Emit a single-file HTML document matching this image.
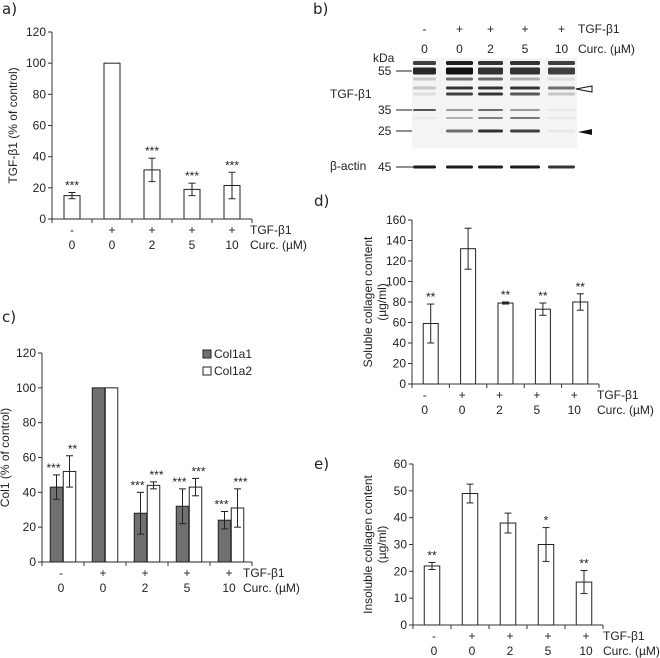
<!DOCTYPE html>
<html><head><meta charset="utf-8"><style>
html,body{margin:0;padding:0;background:#fff;}
svg{display:block;font-family:"Liberation Sans",Arial,sans-serif;}
.t{font-size:12px;fill:#222;}
.pl{font-family:"DejaVu Sans","Liberation Sans",sans-serif;font-size:15px;fill:#222;}
</style></head><body>
<svg id="fig" width="660" height="658" viewBox="0 0 660 658">
<text class="pl" x="2" y="14">a)</text>
<text class="pl" x="313" y="14">b)</text>
<text class="pl" x="2" y="322">c)</text>
<text class="pl" x="314" y="206">d)</text>
<text class="pl" x="314" y="469">e)</text>
<g id="blot"></g>
</svg>
<script>
// Panel a data
const aCats=["0","0","2","5","10"];
const aSigns=["-","+","+","+","+"];
const aVals=[15,100,31.5,19,21.5];
const aErr=[2,0,7.5,4,8.5];
const aStars=["***","","***","***","***"];
const aTicks=[0,20,40,60,80,100,120];
// Panel c data
const cCats=["0","0","2","5","10"];
const cSigns=["-","+","+","+","+"];
const cCol1a1=[43,100,28,32,24];
const cCol1a1Err=[7,0,12,10,5];
const cCol1a1Stars=["***","","***","***","***"];
const cCol1a2=[52,100,44,43,31];
const cCol1a2Err=[9,0,2,5,11];
const cCol1a2Stars=["**","","***","***","***"];
const cTicks=[0,20,40,60,80,100,120];
// Panel d data
const dCats=["0","0","2","5","10"];
const dSigns=["-","+","+","+","+"];
const dVals=[59,132,79,73,80];
const dErr=[19,20,1,6,8];
const dStars=["**","","**","**","**"];
const dTicks=[0,20,40,60,80,100,120,140,160];
// Panel e data
const eCats=["0","0","2","5","10"];
const eSigns=["-","+","+","+","+"];
const eVals=[22,49,38,30,16];
const eErr=[1.3,3.5,3.7,6.3,4.3];
const eStars=["**","","","*","**"];
const eTicks=[0,10,20,30,40,50,60];

const NS="http://www.w3.org/2000/svg";
const svg=document.getElementById('fig');
function mk(tag,attrs,parent,text){const e=document.createElementNS(NS,tag);for(const k in attrs)e.setAttribute(k,attrs[k]);if(text!==undefined)e.textContent=text;(parent||svg).appendChild(e);return e;}

function panel(o){
  const g=mk('g',{});
  
  
  const y=v=>o.y0-(v-o.min)/(o.max-o.min)*(o.y0-o.y1);
  const n=o.signs.length, bw=(o.xe-o.x0)/n;
  const cx=i=>o.x0+bw*(i+0.5);
  const ax=mk('line',{x1:o.x0,y1:o.y1,x2:o.x0,y2:o.y0,stroke:'#333','stroke-width':1},g);
  
  
  const xa=mk('line',{x1:o.x0,y1:o.y0,x2:o.xe,y2:o.y0,stroke:'#333','stroke-width':1},g);
  
  
  o.ticks.forEach(t=>{
    mk('line',{x1:o.x0-4,x2:o.x0,y1:y(t),y2:y(t),stroke:'#333'},g);
    const tl=mk('text',{class:'t',x:o.x0-6,y:y(t)+4,'text-anchor':'end'},g,String(t));
    
    
  });
  for(let i=0;i<=n;i++) mk('line',{x1:o.x0+bw*i,x2:o.x0+bw*i,y1:o.y0,y2:o.y0+4,stroke:'#333'},g);
  o.series.forEach((s,si)=>{
    s.vals.forEach((v,i)=>{
      const x=cx(i)+s.off-o.barW/2;
      const r=mk('rect',{x:x,y:y(v),width:o.barW,height:o.y0-y(v),fill:s.fill,stroke:'#222','stroke-width':1},g);
      
      
      const e=s.err[i];
      const bx=x+o.barW/2;
      if(e>0){
        mk('line',{x1:bx,x2:bx,y1:y(v+e),y2:y(v-e),stroke:'#222'},g);
        mk('line',{x1:bx-3.5,x2:bx+3.5,y1:y(v+e),y2:y(v+e),stroke:'#222'},g);
        mk('line',{x1:bx-3.5,x2:bx+3.5,y1:y(v-e),y2:y(v-e),stroke:'#222'},g);
      }
      if(s.stars[i]){
        const st=mk('text',{class:'t',x:bx+(s.starOff||0),y:y(v+e)-3,'text-anchor':'middle','font-size':'10'},g,s.stars[i]);
        
        
      }
    });
  });
  o.signs.forEach((s,i)=>{
    const a=mk('text',{class:'t',x:cx(i)+o.lblOff,y:o.y0+15,'text-anchor':'middle'},g,s);
    
    
    const b=mk('text',{class:'t',x:cx(i)+o.lblOff,y:o.y0+30,'text-anchor':'middle'},g,o.cats[i]);
    
    
  });
  const t1=mk('text',{class:'t',x:o.xe+o.rlx,y:o.y0+15},g,'TGF-β1');
  
  
  const t2=mk('text',{class:'t',x:o.xe+o.rlx,y:o.y0+30},g,'Curc. (µM)');
  
  
  o.ylab.forEach((l,k)=>{
    const yl=mk('text',{class:'t',transform:`translate(${o.ylx+k*14},${(o.y0+o.y1)/2}) rotate(-90)`,'text-anchor':'middle'},g,l);
    
    
  });
}

panel({name:'chart-a',x0:52,xe:252,y0:219,y1:32,min:0,max:120,ticks:aTicks,signs:aSigns,cats:aCats,barW:16,lblOff:0,rlx:-2,ylx:17,ylab:['TGF-β1 (% of control)'],
  series:[{key:'tgf',vals:aVals,err:aErr,stars:aStars,fill:'#fff',off:0}]});
panel({name:'chart-c',x0:42,xe:252,y0:562,y1:353,min:0,max:120,ticks:cTicks,signs:cSigns,cats:cCats,barW:12.5,lblOff:-2,rlx:-9,ylx:9,ylab:['Col1 (% of control)'],
  series:[{key:'col1a1',vals:cCol1a1,err:cCol1a1Err,stars:cCol1a1Stars,fill:'#707070',off:-6.5,starOff:-3},
          {key:'col1a2',vals:cCol1a2,err:cCol1a2Err,stars:cCol1a2Stars,fill:'#fff',off:6.5,starOff:3}]});
panel({name:'chart-d',x0:412,xe:599,y0:384,y1:220,min:0,max:160,ticks:dTicks,signs:dSigns,cats:dCats,barW:15,lblOff:-6,rlx:-2,ylx:372,ylab:['Soluble collagen content','(µg/ml)'],
  series:[{key:'soluble',vals:dVals,err:dErr,stars:dStars,fill:'#fff',off:0}]});
panel({name:'chart-e',x0:413,xe:603,y0:625,y1:464,min:0,max:60,ticks:eTicks,signs:eSigns,cats:eCats,barW:15.5,lblOff:2,rlx:0,ylx:372,ylab:['Insoluble collagen content','(µg/ml)'],
  series:[{key:'insoluble',vals:eVals,err:eErr,stars:eStars,fill:'#fff',off:0}]});

const lg=mk('g',{});


mk('rect',{x:203,y:350,width:8,height:8,fill:'#707070',stroke:'#222'},lg);
const l1=mk('text',{x:214,y:358,'font-size':'12',fill:'#222'},lg,'Col1a1');


mk('rect',{x:203,y:367,width:8,height:8,fill:'#fff',stroke:'#222'},lg);
const l2=mk('text',{x:214,y:375,'font-size':'12',fill:'#222'},lg,'Col1a2');



const b=document.getElementById('blot');
const laneX=[[413,436],[446,473],[478,503],[510,540],[548,575]];
const signs=["-","+","+","+","+"], doses=["0","0","2","5","10"];
laneX.forEach((l,i)=>{
  const c=(l[0]+l[1])/2;
  const s=mk('text',{class:'t',x:c,y:33,'text-anchor':'middle'},b,signs[i]);
  
  
  const d=mk('text',{class:'t',x:c,y:53,'text-anchor':'middle'},b,doses[i]);
  
  
});
mk('text',{class:'t',x:578,y:33},b,'TGF-β1');
mk('text',{class:'t',x:578,y:53},b,'Curc. (µM)');
mk('text',{class:'t',x:373,y:62,'font-size':'9'},b,'kDa');
[['55',75,71],['35',114,110],['25',135,131],['45',171,167]].forEach(m=>{
  mk('text',{class:'t',x:378,y:m[1]},b,m[0]);
  mk('line',{x1:396,x2:413,y1:m[2],y2:m[2],stroke:'#222'},b);
});
mk('text',{class:'t',x:330,y:98},b,'TGF-β1');
mk('text',{class:'t',x:330,y:170},b,'β-actin');
mk('rect',{x:412,y:58,width:165,height:90,fill:'#f4f4f4'},b);
const bands=[
  [63,4,[0.8,0.95,0.85,0.85,0.8]],
  [71,7,[0.9,1,0.85,0.85,0.8]],
  [79,3,[0.2,0.6,0.6,0.3,0.1]],
  [88,3,[0.2,0.85,0.85,0.85,0.6]],
  [94,3,[0.1,0.8,0.85,0.7,0.2]],
  [110,2,[0.7,0.4,0.6,0.4,0.05]],
  [118,2,[0.05,0.3,0.5,0.55,0.05]],
  [131,3,[0.0,0.6,0.85,0.8,0.05]],
  [167,3,[0.95,0.95,0.95,0.95,0.85]]];
bands.forEach(bd=>laneX.forEach((l,i)=>{
  if(bd[2][i]>0.02){mk('rect',{x:l[0],y:bd[0]-bd[1]/2,width:l[1]-l[0],height:bd[1],rx:1.5,fill:'#111','fill-opacity':bd[2][i]},b);}
}));
mk('polygon',{points:'576,89 592,86 592,92',fill:'#fff',stroke:'#111'},b);
mk('polygon',{points:'578,132 592,129 592,135',fill:'#111'},b);
</script>
</body></html>
